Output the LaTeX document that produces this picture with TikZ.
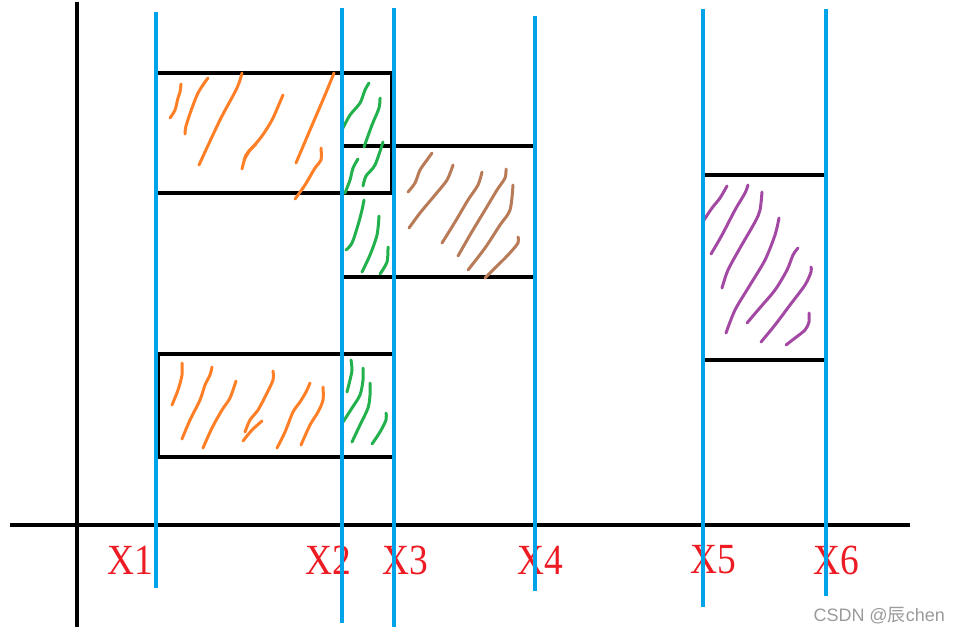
\documentclass[tikz,border=0pt]{standalone}
\usepackage{graphicx}
\usepackage{fontspec}
\setmainfont{Liberation Serif}
\newfontfamily\wmfont{Liberation Sans}
\newfontfamily\cjk{Noto Sans CJK SC}
\definecolor{pblue}{RGB}{0,162,232}
\definecolor{pred}{RGB}{237,28,36}
\definecolor{porange}{RGB}{255,127,39}
\definecolor{pgreen}{RGB}{34,177,76}
\definecolor{pbrown}{RGB}{185,122,87}
\definecolor{ppurple}{RGB}{163,73,164}
\definecolor{wmgrey}{RGB}{155,155,155}
\newcommand{\xlab}[1]{\scalebox{0.87}[1]{#1}}
\tikzset{
  axisline/.style={black,line width=4pt},
  edgeline/.style={black,line width=4pt},
  thinedge/.style={black,line width=2pt},
  blueline/.style={pblue,line width=4pt},
  hatch/.style={line width=3pt,line cap=round,line join=round},
  xlabel/.style={text=pred,font=\fontsize{43}{43}\selectfont,inner sep=0pt},
}
\begin{document}
\begin{tikzpicture}[x=1pt,y=-1pt]
\useasboundingbox[fill=white] (0,0) rectangle (960,635);
% axes
\coordinate (ay0) at (77,2); \coordinate (ay1) at (77,627);
\coordinate (ax0) at (10,525); \coordinate (ax1) at (910,525);
\draw[axisline] (ay0) -- (ay1);
\draw[axisline] (ax0) -- (ax1);
% rectangle edges
\coordinate (a1) at (158,73); \coordinate (a2) at (392,73);
\coordinate (a3) at (158,193); \coordinate (a4) at (392,193);
\draw[edgeline] (a1) -- (a2);
\draw[edgeline] (a3) -- (a4);
\draw[thinedge] (391,73) -- (391,193);
\coordinate (b1) at (343,146); \coordinate (b2) at (535,146);
\coordinate (b3) at (343,277); \coordinate (b4) at (535,277);
\draw[edgeline] (b1) -- (b2);
\draw[edgeline] (b3) -- (b4);
\coordinate (c1) at (158,354); \coordinate (c2) at (392,354);
\coordinate (c3) at (158,457); \coordinate (c4) at (392,457);
\draw[edgeline] (c1) -- (c2);
\draw[edgeline] (c3) -- (c4);
\draw[thinedge] (159,354) -- (159,457);
\coordinate (d1) at (705,175); \coordinate (d2) at (824,175);
\coordinate (d3) at (705,360); \coordinate (d4) at (824,360);
\draw[edgeline] (d1) -- (d2);
\draw[edgeline] (d3) -- (d4);
% labels
\node[xlabel] (lx1) at (130,560) {\xlab{X1}};
\node[xlabel] (lx2) at (328,560) {\xlab{X2}};
\node[xlabel] (lx3) at (405,560) {\xlab{X3}};
\node[xlabel] (lx4) at (540,560) {\xlab{X4}};
\node[xlabel] (lx5) at (713,560) {\xlab{X5}};
\node[xlabel] (lx6) at (836,560) {\xlab{X6}};
% hatching: orange (rect A)
\begin{scope}[hatch,porange]
\draw plot[smooth] coordinates {(170,118) (175,110) (178,98) (180,92) (181,84)};
\draw plot[smooth] coordinates {(185,134) (186,126) (192,108) (198,93) (205,82) (208,78)};
\draw plot[smooth] coordinates {(199,165) (220,120) (237,88) (242,73)};
\draw plot[smooth] coordinates {(242,169) (246,155) (252,148) (262,136) (272,120) (280,102) (283,95)};
\draw plot[smooth] coordinates {(244,160) (250,150) (256,144)};
\draw plot[smooth] coordinates {(296,163) (310,130) (325,95) (334,73)};
\draw plot[smooth] coordinates {(295,199) (305,185) (315,168) (321,160) (321,148)};
% orange (rect C)
\draw plot[smooth] coordinates {(172,405) (178,390) (182,375) (182,363)};
\draw plot[smooth] coordinates {(182,439) (190,420) (200,400) (205,385) (210,375) (212,367)};
\draw plot[smooth] coordinates {(203,448) (212,428) (222,410) (230,398) (236,381)};
\draw plot[smooth] coordinates {(243,441) (252,430) (262,421)};
\draw plot[smooth] coordinates {(245,432) (250,420) (258,410) (266,395) (273,380) (273,371)};
\draw plot[smooth] coordinates {(277,448) (285,432) (293,412) (300,402) (306,392) (310,383)};
\draw plot[smooth] coordinates {(301,445) (310,425) (318,412) (323,400) (323,387)};
\end{scope}
% green
\begin{scope}[hatch,pgreen]
\draw plot[smooth] coordinates {(343,128) (350,115) (360,103) (365,90) (369,83)};
\draw plot[smooth] coordinates {(364,147) (372,125) (379,108) (380,98)};
\draw plot[smooth] coordinates {(345,193) (350,180) (353,168) (358,159)};
\draw plot[smooth] coordinates {(363,186) (366,176) (375,165) (383,142)};
\draw plot[smooth] coordinates {(346,250) (352,243) (358,225) (362,210) (364,200)};
\draw plot[smooth] coordinates {(362,272) (370,255) (377,235) (379,216)};
\draw plot[smooth] coordinates {(380,274) (387,262) (388,247)};
\draw plot[smooth] coordinates {(347,392) (350,380) (352,370) (351,360)};
\draw plot[smooth] coordinates {(343,422) (352,408) (360,395) (363,380) (363,368)};
\draw plot[smooth] coordinates {(352,442) (360,425) (368,408) (370,395) (370,383)};
\draw plot[smooth] coordinates {(372,444) (380,432) (386,420) (386,413)};
\end{scope}
% brown
\begin{scope}[hatch,pbrown]
\draw plot[smooth] coordinates {(408,192) (415,183) (420,170) (427,160) (432,153)};
\draw plot[smooth] coordinates {(409,228) (420,213) (435,195) (447,180) (453,165)};
\draw plot[smooth] coordinates {(442,243) (455,222) (468,200) (478,185) (482,172)};
\draw plot[smooth] coordinates {(458,256) (470,235) (485,210) (497,190) (505,178) (506,169)};
\draw plot[smooth] coordinates {(468,270) (485,248) (500,225) (510,210) (513,185)};
\draw plot[smooth] coordinates {(485,278) (495,268) (508,255) (518,243) (518,237)};
\end{scope}
% purple
\begin{scope}[hatch,ppurple]
\draw plot[smooth] coordinates {(704,220) (712,208) (720,198) (727,186)};
\draw plot[smooth] coordinates {(711,254) (722,235) (735,210) (745,193) (748,185)};
\draw plot[smooth] coordinates {(722,288) (728,270) (740,248) (755,222) (760,210) (762,192)};
\draw plot[smooth] coordinates {(726,333) (735,310) (750,285) (765,260) (775,235) (779,218)};
\draw plot[smooth] coordinates {(747,323) (758,310) (775,290) (787,270) (793,255) (798,248)};
\draw plot[smooth] coordinates {(761,342) (775,325) (790,305) (805,285) (811,272) (811,267)};
\draw plot[smooth] coordinates {(786,345) (795,338) (805,330) (809,322) (809,313)};
\end{scope}
% blue lines
\coordinate (x1t) at (156,12);  \coordinate (x1b) at (156,588);
\coordinate (x2t) at (342,8);   \coordinate (x2b) at (342,623);
\coordinate (x3t) at (394,8);   \coordinate (x3b) at (394,627);
\coordinate (x4t) at (535,16);  \coordinate (x4b) at (535,591);
\coordinate (x5t) at (703,9);   \coordinate (x5b) at (703,607);
\coordinate (x6t) at (826,9);   \coordinate (x6b) at (826,596);
\draw[blueline] (x1t) -- (x1b);
\draw[blueline] (x2t) -- (x2b);
\draw[blueline] (x3t) -- (x3b);
\draw[blueline] (x4t) -- (x4b);
\draw[blueline] (x5t) -- (x5b);
\draw[blueline] (x6t) -- (x6b);
% watermark
\node[text=wmgrey,font=\fontsize{18}{18}\selectfont,inner sep=0pt,anchor=east] (wm) at (945,615.5) {\wmfont CSDN @{\cjk 辰}chen};
\end{tikzpicture}
\end{document}
